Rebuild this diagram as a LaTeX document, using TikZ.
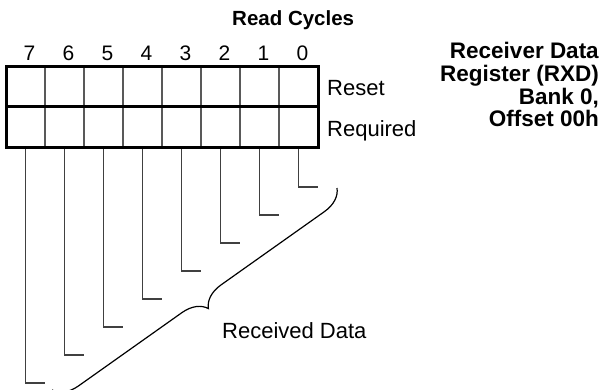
\documentclass[tikz,border=0pt]{standalone}
\usepackage{fontspec}
\setmainfont{Liberation Sans}
\usetikzlibrary{decorations.pathreplacing}
\begin{document}
\begin{tikzpicture}[x=1pt,y=-1pt,
  cell/.style={draw=black!65, line width=1.2pt, minimum width=39pt, minimum height=40.5pt, inner sep=0pt, outer sep=0pt},
  bitnum/.style={font=\fontsize{21}{21}\selectfont, anchor=base, inner sep=0pt},
  lbl/.style={font=\fontsize{22}{22}\selectfont, anchor=base west, inner sep=0pt},
  ttl/.style={font=\bfseries\fontsize{22.5}{23}\selectfont, anchor=base east, inner sep=0pt},
  lead/.style={draw=black!75, line width=1.2pt},
  thickline/.style={draw=black, line width=3pt},
  bracestyle/.style={draw=black, line width=1.2pt, decorate, decoration={brace, amplitude=24pt}}
  ]
\useasboundingbox (0,0) rectangle (604,390);
\foreach \b in {0,...,7} {
  \pgfmathsetmacro\cx{25.5+(7-\b)*39}
  \pgfmathsetmacro\ty{187+28*\b}
  \node[cell] (c\b) at (\cx,86.5) {};
  \node[cell] (r\b) at (\cx,127) {};
  \node[bitnum] (n\b) at (\cx+4,61) {\b};
  \coordinate (e\b) at (\cx+19,\ty);
  \draw[lead] (r\b.south) |- (e\b);
}
\draw[thickline] (c7.north west) rectangle (r0.south east);
\draw[thickline] (c7.south west) -- (c0.south east);
\coordinate (bt) at (337,188);
\coordinate (bb) at (52,390);
\draw[bracestyle] (bt) -- (bb);
\node[font=\bfseries\fontsize{20.5}{21}\selectfont, anchor=base west, inner sep=0pt] (title) at (232,26) {Read Cycles};
\node[lbl] (reset) at (327,96) {Reset};
\node[lbl] (req) at (327,137) {Required};
\node[ttl] (t1) at (599,59) {Receiver Data};
\node[ttl] (t2) at (599,82) {Register (RXD)};
\node[ttl] (t3) at (599,105) {Bank 0,};
\node[ttl] (t4) at (599,127) {Offset 00h};
\node[lbl] (rd) at (222,338) {Received Data};
\end{tikzpicture}
\end{document}
